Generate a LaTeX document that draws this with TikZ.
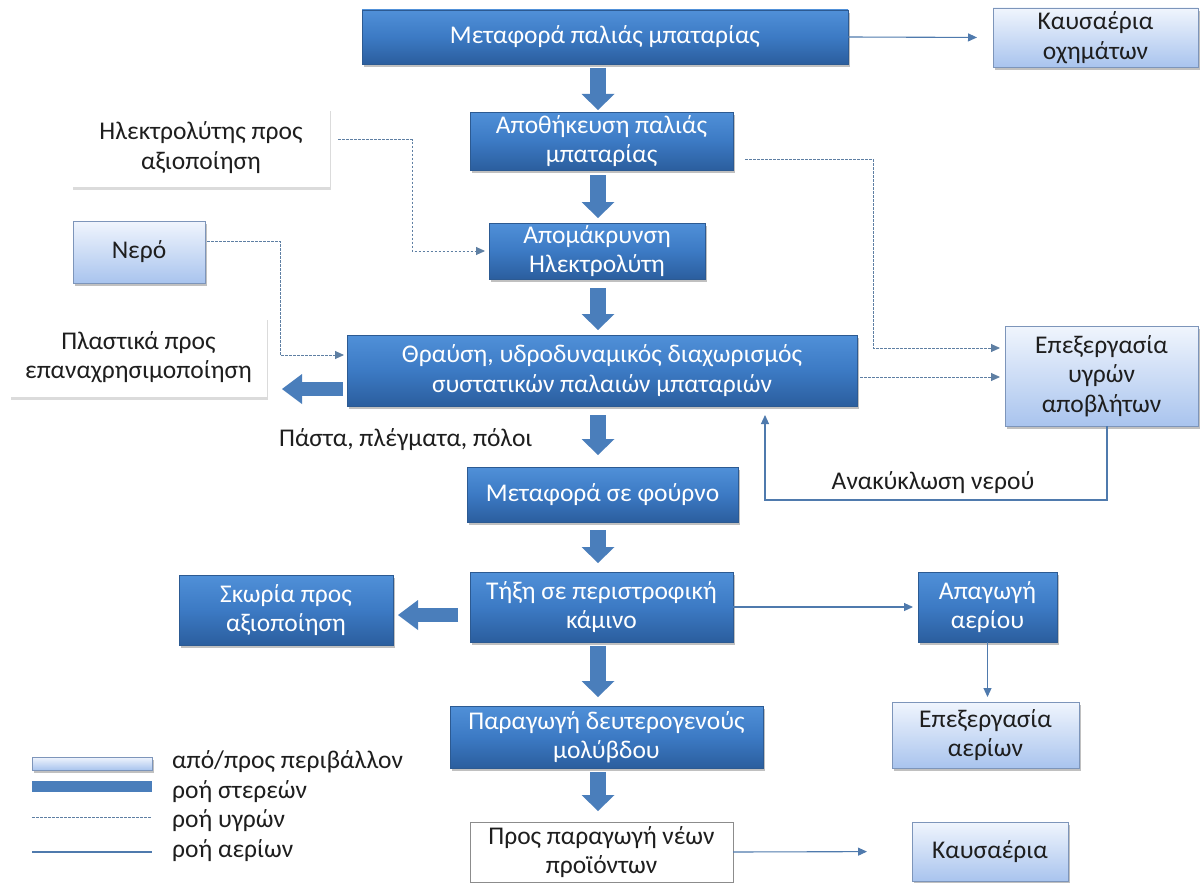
\documentclass[tikz,border=0pt]{standalone}
\usepackage{fontspec}
\setmainfont{Carlito}
\usetikzlibrary{arrows.meta,shadows,calc}
\definecolor{dtop}{HTML}{5090D8}
\definecolor{dmid}{HTML}{3C7AC4}
\definecolor{dbot}{HTML}{2B5E9E}
\definecolor{dborder}{HTML}{2C5A92}
\definecolor{ltop}{HTML}{F0F5FD}
\definecolor{lbot}{HTML}{A9C4EE}
\definecolor{lborder}{HTML}{7D95BA}
\definecolor{fatc}{HTML}{4A7EBB}
\definecolor{linec}{HTML}{4F7AAD}
\definecolor{dashc}{HTML}{5E7FA3}
\definecolor{txt}{HTML}{1E1E1E}
\begin{document}
\begin{tikzpicture}[x=1pt,y=-1pt,
  box/.style={rectangle, inner sep=0pt, outer sep=0pt, align=center,
    font=\fontsize{25.5}{29.5}\selectfont},
  shad/.style={drop shadow={shadow xshift=2pt, shadow yshift=-3pt, opacity=0.35, fill=black!70}},
  wshad/.style={drop shadow={shadow xshift=0.5pt, shadow yshift=-3pt, opacity=0.2, fill=black!70}},
  dbox/.style={box, shad, draw=dborder, line width=0.8pt, top color=dtop, bottom color=dbot, middle color=dmid, text=white},
  lbox/.style={box, shad, draw=lborder, line width=0.8pt, top color=ltop, bottom color=lbot, text=txt},
  wbox/.style={box, wshad, fill=white, text=txt},
  wboxb/.style={wbox, draw=black!45, line width=0.8pt},
  fatv/.style={draw=fatc, line width=16pt, -{Triangle[length=16pt,width=33pt,line width=0pt]}},
  fath/.style={draw=fatc, line width=14pt, -{Triangle[length=20pt,width=30pt,line width=0pt]}},
  gas/.style={draw=linec, line width=1.1pt, -{Triangle[length=9pt,width=8pt]}},
  liq/.style={draw=dashc, line width=0.9pt, dash pattern=on 2.5pt off 1.5pt, -{Triangle[length=9pt,width=8pt]}},
  lab/.style={font=\fontsize{25.5}{29.5}\selectfont, text=txt, inner sep=0pt}
]
\fill[white] (0,0) rectangle (1203,883);
\useasboundingbox (0,0) rectangle (1203,883);

% main column
\node[dbox, minimum width=486pt, minimum height=54pt] (b1) at (605,37) {Μεταφορά παλιάς μπαταρίας};
\node[dbox, minimum width=263pt, minimum height=58pt] (b3) at (601.5,141) {Αποθήκευση παλιάς\\μπαταρίας};
\node[dbox, minimum width=216pt, minimum height=56pt] (b5) at (597,251) {Απομάκρυνση\\Ηλεκτρολύτη};
\node[dbox, minimum width=510pt, minimum height=71pt] (b7) at (602,370.5) {Θραύση, υδροδυναμικός διαχωρισμός\\συστατικών παλαιών μπαταριών};
\node[dbox, minimum width=271pt, minimum height=55pt] (b9) at (602.5,494.5) {Μεταφορά σε φούρνο};
\node[dbox, minimum width=263pt, minimum height=70pt] (b11) at (601.5,607) {Τήξη σε περιστροφική\\κάμινο};
\node[dbox, minimum width=313pt, minimum height=62pt] (b13) at (606.5,737) {Παραγωγή δευτερογενούς\\μολύβδου};
\node[wboxb, minimum width=263pt, minimum height=60pt] (pr) at (601.5,852) {Προς παραγωγή νέων\\προϊόντων};

% side boxes
\node[lbox, minimum width=205pt, minimum height=59pt] (kau1) at (1095.5,37.5) {Καυσαέρια\\οχημάτων};
\node[wbox, minimum width=258pt, minimum height=79pt] (el) at (201,147.5) {Ηλεκτρολύτης προς\\αξιοποίηση};
\node[lbox, minimum width=132pt, minimum height=62pt] (ner) at (139,252) {Νερό};
\node[wbox, minimum width=257pt, minimum height=80pt] (pl) at (138.5,357) {Πλαστικά προς\\επαναχρησιμοποίηση};
\node[lbox, minimum width=193pt, minimum height=100pt] (ey) at (1101.5,376) {Επεξεργασία\\υγρών\\αποβλήτων};
\node[dbox, minimum width=214pt, minimum height=70pt] (sk) at (286,610) {Σκωρία προς\\αξιοποίηση};
\node[dbox, minimum width=139pt, minimum height=70pt] (ap) at (987.5,607) {Απαγωγή\\αερίου};
\node[lbox, minimum width=187pt, minimum height=66pt] (ea) at (985.5,735) {Επεξεργασία\\αερίων};
\node[lbox, minimum width=156pt, minimum height=59pt] (ka) at (990,851.5) {Καυσαέρια};

% labels
\node[lab, anchor=west] (lp) at (279,440) {Πάστα, πλέγματα, πόλοι};
\node[lab] (lr) at (933,483) {Ανακύκλωση νερού};

% solid flow (fat arrows)
\coordinate (col) at (598,0);
\draw[fatv, shorten <=4pt, shorten >=2pt] (b1.south -| col) -- (b3.north -| col);
\draw[fatv, shorten <=5pt, shorten >=5pt] (b3.south -| col) -- (b5.north -| col);
\draw[fatv, shorten <=9pt, shorten >=5pt] (b5.south -| col) -- (b7.north -| col);
\draw[fatv, shorten <=9pt, shorten >=12pt] (b7.south -| col) -- (b9.north -| col);
\draw[fatv, shorten <=8pt, shorten >=9pt] (b9.south -| col) -- (b11.north -| col);
\draw[fatv, shorten <=4pt, shorten >=9pt] (b11.south -| col) -- (b13.north -| col);
\draw[fatv, shorten <=4pt, shorten >=11pt] (b13.south -| col) -- (pr.north -| col);

\coordinate (p1) at ([yshift=-18.5pt]b7.west);
\draw[fath, shorten <=4pt, shorten >=15pt] (p1) -- (p1 -| pl.east);
\coordinate (p5) at ([yshift=-8pt]b11.west);
\draw[fath, shorten <=12pt, shorten >=5pt] (p5) -- (p5 -| sk.east);

% gas flow
\draw[gas, shorten >=16pt] (b1.east) -- (kau1.west);
\draw[gas, shorten >=5pt] (b11.east) -- (ap.west);
\draw[gas, shorten >=5pt] (ap.south) -- (ap.south |- ea.north);
\draw[gas, shorten >=45pt] (pr.east) -- (ka.west);
\coordinate (r0) at ([xshift=5.5pt]ey.south);
\coordinate (r1) at (765,500);
\draw[gas, shorten >=9pt] (r0) |- (r1) -- (r1 |- b7.south);

% liquid flow
\coordinate (k1) at (412,0);
\draw[liq, shorten <=8pt, shorten >=4pt] ([yshift=8pt]el.east) -| (k1 |- b5.west) -- (b5.west);
\coordinate (k2) at (280,0);
\coordinate (p2) at ([yshift=15.5pt]b7.west);
\draw[liq, shorten <=2pt, shorten >=3pt] ([yshift=11pt]ner.east) -| (k2 |- p2) -- (p2);
\coordinate (k3) at (873,0);
\coordinate (p3) at ([yshift=28pt]ey.west);
\draw[liq, shorten <=12pt, shorten >=5pt] ([yshift=-18pt]b3.east) -| (k3 |- p3) -- (p3);
\coordinate (p4) at ([yshift=-6.5pt]b7.east);
\draw[liq, shorten <=3pt, shorten >=5pt] (p4) -- (p4 -| ey.west);

% legend
\node[box, draw=lborder, line width=0.8pt, top color=ltop, bottom color=lbot, minimum width=120pt, minimum height=13pt, shad] (lg1) at (92,763.5) {};
\node[box, fill=fatc, minimum width=120pt, minimum height=11pt] (lg2) at (92,786.5) {};
\coordinate (lg3a) at (32,817);
\coordinate (lg3b) at (152,817);
\draw[draw=dashc, line width=0.9pt, dash pattern=on 2.5pt off 1.5pt] (lg3a) -- (lg3b);
\coordinate (lg4a) at (32,852);
\coordinate (lg4b) at (152,852);
\draw[draw=linec, line width=1.1pt] (lg4a) -- (lg4b);
\node[lab, anchor=west] (t1) at (172,762) {από/προς περιβάλλον};
\node[lab, anchor=west] (t2) at (172,792) {ροή στερεών};
\node[lab, anchor=west] (t3) at (172,821) {ροή υγρών};
\node[lab, anchor=west] (t4) at (172,851) {ροή αερίων};
\end{tikzpicture}
\end{document}
